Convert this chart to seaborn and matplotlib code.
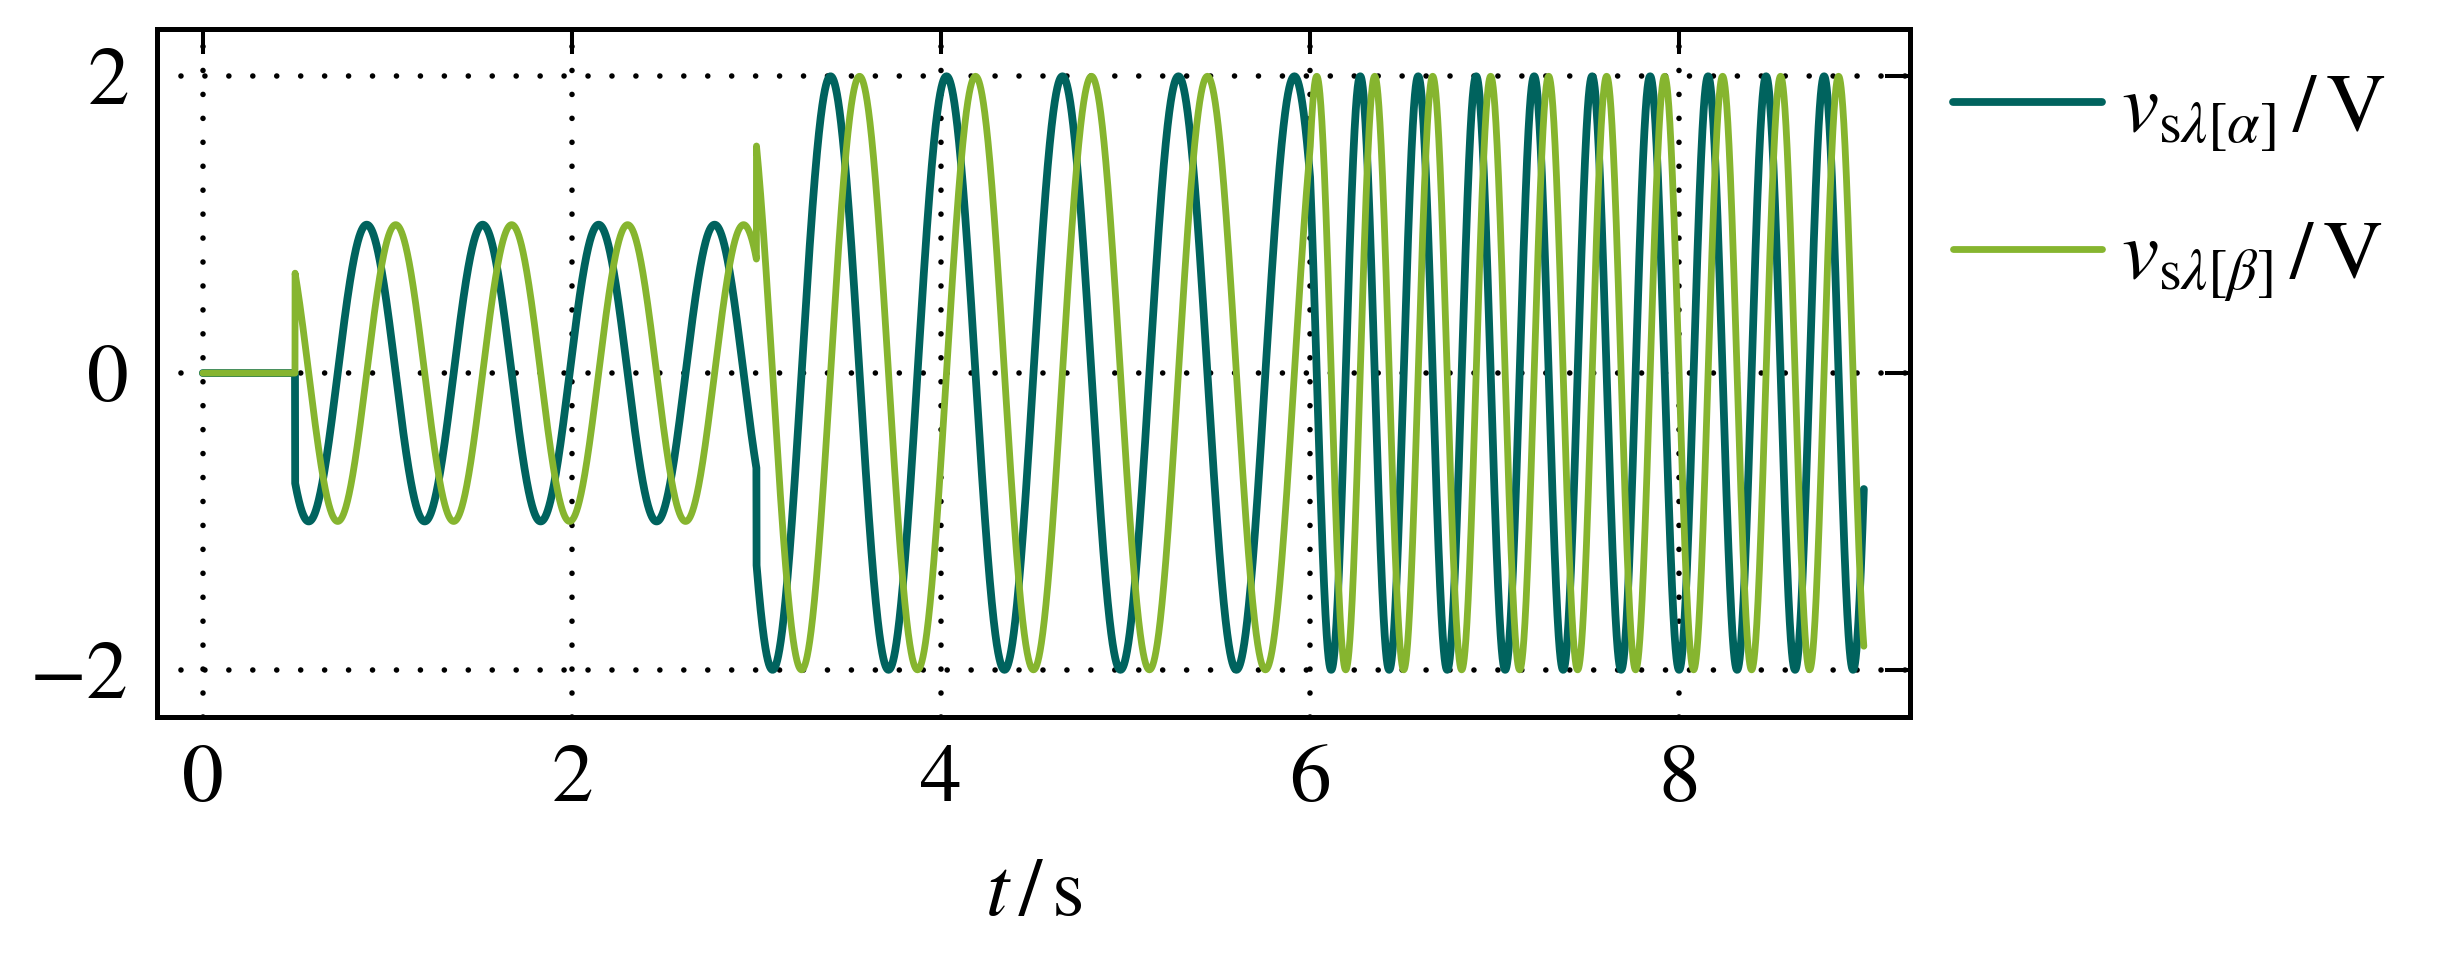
import numpy as np
import pandas as pd
import seaborn as sns
import matplotlib.pyplot as plt

# switching instants, amplitudes and angular speeds
seg_start = [0.0, 0.5, 3.0, 6.0]     # s
seg_amp = [0.0, 1.0, 2.0, 2.0]       # V
seg_omega = [10.0, 10.0, 10.0, 20.0]  # rad/s
phase_on = -3.88                     # rad, angle at t = 0.5 s
t_end = 9.0

xticks = [0, 2, 4, 6, 8]
yticks = [-2, 0, 2]

teal = '#00635E'
green = '#86B52F'

# build the two voltage components
t = np.arange(0.0, t_end + 1e-9, 0.0005)
idx = np.searchsorted(seg_start, t, side='right') - 1
amp = np.array(seg_amp)[idx]
omega = np.array(seg_omega)[idx]
theta = np.concatenate([[0.0], np.cumsum(omega[1:] * np.diff(t))])
theta -= theta[np.searchsorted(t, seg_start[1])]
theta += phase_on
v_alpha = amp * np.cos(theta)
v_beta = amp * np.sin(theta)

df_a = pd.DataFrame({'t': t, 'v': v_alpha})
df_b = pd.DataFrame({'t': t, 'v': v_beta})

sns.set_theme(style='white')
plt.rcParams['font.family'] = ['STIXGeneral', 'DejaVu Serif']
plt.rcParams['mathtext.fontset'] = 'stix'
plt.rcParams['font.size'] = 60
for k in ['text.color', 'axes.labelcolor', 'xtick.color', 'ytick.color', 'axes.edgecolor']:
    plt.rcParams[k] = 'black'

fig, ax = plt.subplots(figsize=(24.44, 9.6), dpi=100)
fig.subplots_adjust(left=0.0641, right=0.7815, top=0.970, bottom=0.2528)

sns.lineplot(data=df_a, x='t', y='v', ax=ax, color=teal, estimator=None, sort=False,
             label=r'$v_{\mathrm{s}\lambda[\alpha]}\,/\,\mathrm{V}$')
sns.lineplot(data=df_b, x='t', y='v', ax=ax, color=green, estimator=None, sort=False,
             label=r'$v_{\mathrm{s}\lambda[\beta]}\,/\,\mathrm{V}$')
ax.lines[0].set_linewidth(5.6)
ax.lines[1].set_linewidth(4.9)

ax.set_xlim(-0.25, 9.25)
ax.set_ylim(-2.32, 2.32)
ax.set_xticks(xticks)
ax.set_yticks(yticks)
ax.set_axisbelow(True)
ax.grid(True, color='black', linestyle=(0, (0.01, 4.3)), linewidth=4.0,
        dash_capstyle='round')

for sp in ax.spines.values():
    sp.set_linewidth(3.6)
    sp.set_color('black')
ax.tick_params(axis='both', which='major', direction='in', length=18, width=2.9,
               top=True, right=True, labelsize=60, color='black', labelcolor='black')
ax.tick_params(axis='x', pad=20)
ax.tick_params(axis='y', pad=20)

ax.set_xlabel(r'$t\,/\,\mathrm{s}$', fontsize=60, color='black')
ax.set_ylabel('')
ax.xaxis.set_label_coords(0.5, -0.205)

leg = ax.legend(loc='upper left', bbox_to_anchor=(1953 / 2444, 1 - 73 / 960),
                bbox_transform=fig.transFigure, frameon=False, borderpad=0,
                borderaxespad=0, handlelength=1.79, handletextpad=0.23,
                labelspacing=0.80, fontsize=60)
for h, w in zip(leg.get_lines(), [5.6, 4.9]):
    h.set_solid_capstyle('round')
    h.set_linewidth(w)

fig.savefig('out.png', dpi=100)
